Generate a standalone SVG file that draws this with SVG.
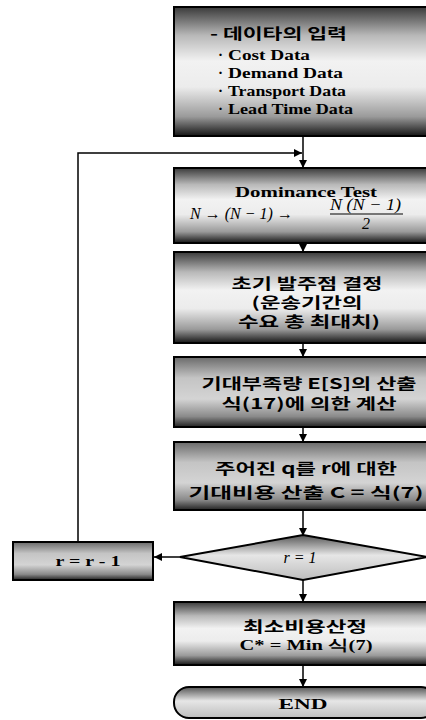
<svg xmlns="http://www.w3.org/2000/svg" width="426" height="720" viewBox="0 0 426 720">
<defs>
<linearGradient id="g" x1="0" y1="0" x2="0" y2="1">
<stop offset="0" stop-color="#3a3a3a"/>
<stop offset="0.22" stop-color="#b8b8b8"/>
<stop offset="0.42" stop-color="#f2f2f2"/>
<stop offset="0.62" stop-color="#ececec"/>
<stop offset="0.85" stop-color="#9a9a9a"/>
<stop offset="1" stop-color="#151515"/>
</linearGradient>
<linearGradient id="g2" x1="0" y1="0" x2="0" y2="1">
<stop offset="0" stop-color="#6a6a6a"/>
<stop offset="0.3" stop-color="#c4c4c4"/>
<stop offset="0.6" stop-color="#d4d4d4"/>
<stop offset="0.85" stop-color="#8a8a8a"/>
<stop offset="1" stop-color="#222"/>
</linearGradient>
<linearGradient id="gd" x1="0" y1="0" x2="0" y2="1">
<stop offset="0" stop-color="#555"/>
<stop offset="0.45" stop-color="#e6e6e6"/>
<stop offset="1" stop-color="#bdbdbd"/>
</linearGradient>
<marker id="ah" viewBox="0 0 10 10" refX="10" refY="5" markerWidth="8" markerHeight="8" markerUnits="userSpaceOnUse" orient="auto">
<path d="M0,0 L10,5 L0,10 Z" fill="#000"/>
</marker>
<style>
.box{fill:url(#g);stroke:#000;stroke-width:2}
.box2{fill:url(#g2);stroke:#000;stroke-width:2}
.ln{stroke:#000;stroke-width:1.5;fill:none}
.en{font-family:"Liberation Serif",serif;font-weight:bold;font-size:15px;fill:#000}
.it{font-family:"Liberation Serif",serif;font-style:italic;font-size:16px;fill:#000}
.ko{font-family:"Noto Sans CJK KR",sans-serif;font-weight:bold;font-size:15px;fill:#000}
</style>
</defs>
<g id="connectors">
<line class="ln" x1="303" y1="136" x2="303" y2="168" marker-end="url(#ah)"/>
<polyline class="ln" points="78,542 78,153 302,153" marker-end="url(#ah)"/>
<line class="ln" x1="303" y1="243" x2="303" y2="252" marker-end="url(#ah)"/>
<line class="ln" x1="303" y1="343" x2="303" y2="357" marker-end="url(#ah)"/>
<line class="ln" x1="303" y1="427" x2="303" y2="442" marker-end="url(#ah)"/>
<line class="ln" x1="303" y1="510" x2="303" y2="536" marker-end="url(#ah)"/>
<line class="ln" x1="303" y1="580" x2="303" y2="602" marker-end="url(#ah)"/>
<line class="ln" x1="303" y1="665" x2="303" y2="687" marker-end="url(#ah)"/>
<line class="ln" x1="180" y1="557" x2="154" y2="557" marker-end="url(#ah)"/>
</g>
<g id="n1">
<rect class="box" x="174" y="7" width="262" height="129"/>
<text class="ko" x="210" y="39" textLength="137" lengthAdjust="spacingAndGlyphs">- 데이타의 입력</text>
<text class="en" x="218" y="60">·</text>
<text class="en" x="228" y="60" textLength="82" lengthAdjust="spacingAndGlyphs">Cost Data</text>
<text class="en" x="218" y="78">·</text>
<text class="en" x="228" y="78" textLength="115" lengthAdjust="spacingAndGlyphs">Demand Data</text>
<text class="en" x="218" y="96">·</text>
<text class="en" x="228" y="96" textLength="118" lengthAdjust="spacingAndGlyphs">Transport Data</text>
<text class="en" x="218" y="114">·</text>
<text class="en" x="228" y="114" textLength="125" lengthAdjust="spacingAndGlyphs">Lead Time Data</text>
</g>
<g id="n2">
<rect class="box" x="174" y="168" width="262" height="75"/>
<text class="en" x="235" y="197" textLength="142" lengthAdjust="spacingAndGlyphs">Dominance Test</text>
<text class="it" x="190" y="219" textLength="103" lengthAdjust="spacingAndGlyphs">N → (N − 1) →</text>
<text class="it" x="330" y="210" textLength="71" lengthAdjust="spacingAndGlyphs">N (N − 1)</text>
<line x1="330" y1="214" x2="403" y2="214" stroke="#000" stroke-width="1.2"/>
<text class="it" x="362" y="229">2</text>
</g>
<g id="n3">
<rect class="box" x="174" y="252" width="262" height="91"/>
<text class="ko" x="307" y="289" text-anchor="middle" textLength="151" lengthAdjust="spacingAndGlyphs">초기 발주점 결정</text>
<text class="ko" x="307" y="308" text-anchor="middle" textLength="111" lengthAdjust="spacingAndGlyphs">(운송기간의</text>
<text class="ko" x="309" y="327" text-anchor="middle" textLength="142" lengthAdjust="spacingAndGlyphs">수요 총 최대치)</text>
</g>
<g id="n4">
<rect class="box2" x="174" y="357" width="262" height="70"/>
<text class="ko" x="309" y="389" text-anchor="middle" textLength="215" lengthAdjust="spacingAndGlyphs">기대부족량 E[S]의 산출</text>
<text class="ko" x="309" y="409" text-anchor="middle" textLength="175" lengthAdjust="spacingAndGlyphs">식(17)에 의한 계산</text>
</g>
<g id="n5">
<rect class="box2" x="174" y="442" width="262" height="68"/>
<text class="ko" x="306" y="474" text-anchor="middle" textLength="182" lengthAdjust="spacingAndGlyphs">주어진 q를 r에 대한</text>
<text class="ko" x="306" y="498" text-anchor="middle" textLength="235" lengthAdjust="spacingAndGlyphs">기대비용 산출 C = 식(7)</text>
</g>
<g id="n6">
<polygon points="303,535 427,557 303,580 180,557" fill="url(#gd)" stroke="#000" stroke-width="2"/>
<text class="it" x="300" y="563" text-anchor="middle" font-size="17">r = 1</text>
</g>
<g id="n7">
<rect class="box2" x="13" y="542" width="140" height="38"/>
<text class="en" x="88" y="566" text-anchor="middle" font-weight="normal" font-size="17" textLength="65" lengthAdjust="spacingAndGlyphs">r = r - 1</text>
</g>
<g id="n8">
<rect class="box" x="174" y="602" width="262" height="63"/>
<text class="ko" x="305" y="632" text-anchor="middle" textLength="124" lengthAdjust="spacingAndGlyphs">최소비용산정</text>
<text class="en" x="306" y="650" text-anchor="middle" textLength="133" lengthAdjust="spacingAndGlyphs">C* = Min 식(7)</text>
</g>
<g id="n9">
<rect x="174" y="687" width="262" height="31" rx="15" ry="15" fill="url(#gd)" stroke="#000" stroke-width="2"/>
<text class="en" x="303" y="709" text-anchor="middle" textLength="49" lengthAdjust="spacingAndGlyphs">END</text>
</g>
</svg>
